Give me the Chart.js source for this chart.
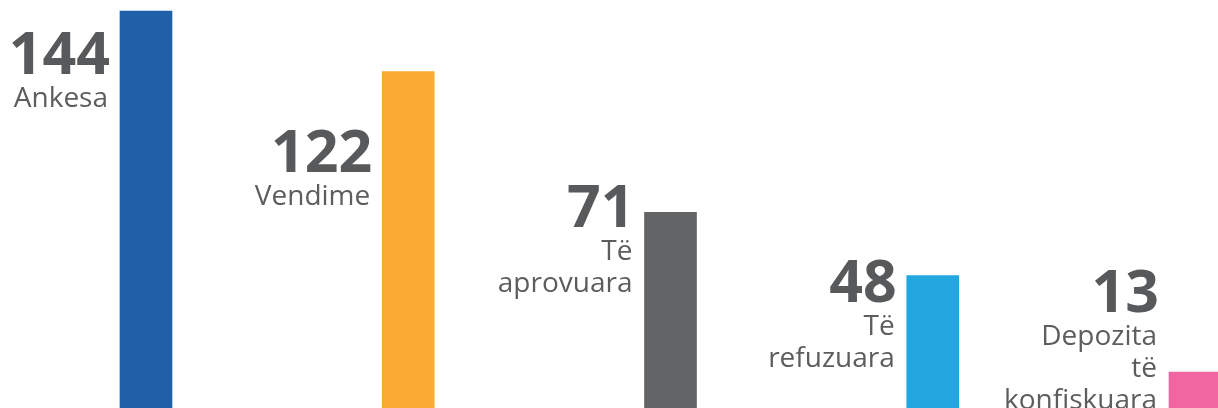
<!DOCTYPE html>
<html>
<head>
<meta charset="utf-8">
<script src="https://cdn.jsdelivr.net/npm/chart.js@4"></script>
<style>
html,body{margin:0;padding:0;background:#fff;}
#wrap{width:1218px;height:408px;position:relative;}
</style>
</head>
<body>
<div id="wrap"><canvas id="c" width="1218" height="408"></canvas></div>
<script>
const categories = [["Ankesa"], ["Vendime"], ["Të", "aprovuara"], ["Të", "refuzuara"], ["Depozita", "të", "konfiskuara"]];
const values = [144, 122, 71, 48, 13];
const barColors = ["#1F60A9", "#F9AA33", "#636466", "#22A7E0", "#EF66A1"];

// label anchor baselines (layout, not data)
const numberBaselines = [74, 172, 227, 302, 312];

const labelPlugin = {
  id: 'sideLabels',
  afterDatasetsDraw(chart) {
    const ctx = chart.ctx;
    const meta = chart.getDatasetMeta(0);
    ctx.save();
    ctx.textAlign = 'right';
    ctx.textBaseline = 'alphabetic';
    meta.data.forEach((bar, i) => {
      const left = bar.x - bar.width / 2;
      const xr = left - 10;
      const yb = numberBaselines[i];
      ctx.fillStyle = '#58595B';
      ctx.font = '700 59px "Open Sans"';
      ctx.fillText(String(values[i]), xr, yb);
      ctx.fillStyle = '#5C5D5F';
      ctx.font = '400 28px "Open Sans"';
      categories[i].forEach((line, k) => {
        ctx.fillText(line, xr - 2, yb + 33 + k * 32);
      });
    });
    ctx.restore();
  }
};

new Chart(document.getElementById('c'), {
  type: 'bar',
  data: {
    labels: categories.map(c => c.join(' ')),
    datasets: [{
      data: values,
      backgroundColor: barColors,
      borderWidth: 0,
      barThickness: 52,
      clip: false
    }]
  },
  options: {
    responsive: false,
    animation: false,
    events: [],
    layout: { padding: { left: 146, right: 23, top: 0, bottom: 0 } },
    plugins: { legend: { display: false }, tooltip: { enabled: false } },
    scales: {
      x: { display: false, offset: false, grid: { display: false } },
      y: { display: false, min: 0, max: 148, grid: { display: false } }
    }
  },
  plugins: [labelPlugin]
});
</script>
</body>
</html>
